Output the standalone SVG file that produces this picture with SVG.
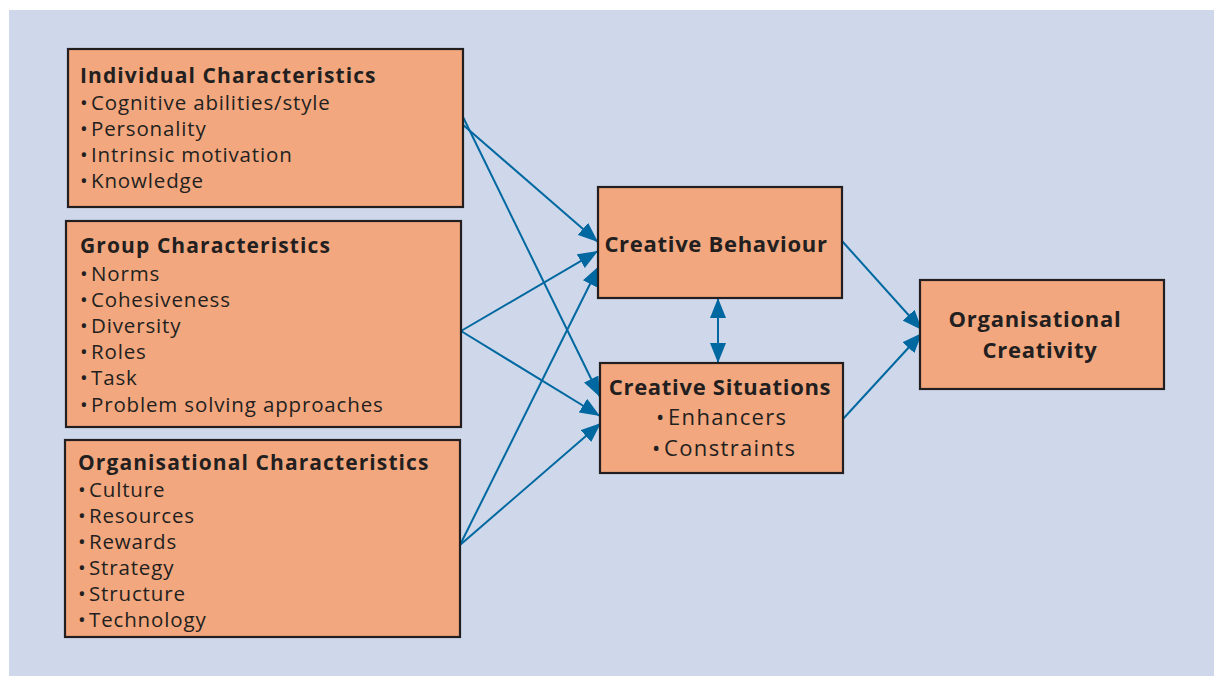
<svg xmlns="http://www.w3.org/2000/svg" width="1214" height="676" viewBox="0 0 1214 676">
  <style>
    .panel { fill: #cfd8ea; }
    .box { fill: #f2a77e; stroke: #231f20; stroke-width: 2.2; }
    .t { font-family: "Open Sans", "Liberation Sans", Arial, sans-serif; fill: #231f20; }
    .h { font-weight: bold; font-size: 21px; letter-spacing: 1.1px; }
    .hc { font-weight: bold; font-size: 22px; letter-spacing: 0.7px; text-anchor: middle; }
    .i { font-size: 20.5px; letter-spacing: 0.85px; }
    .ic { font-size: 22px; letter-spacing: 1.35px; }
    .link { fill: none; stroke: #0068a0; stroke-width: 2; }
  </style>
  <defs>
    <marker id="arrow" viewBox="0 0 20 16" refX="20" refY="8" markerWidth="20" markerHeight="16" markerUnits="userSpaceOnUse" orient="auto-start-reverse">
      <path d="M0,0 L20,8 L0,16 z" fill="#0068a0"/>
    </marker>
  </defs>

  <rect width="1214" height="676" fill="#ffffff"/>
  <rect class="panel" x="9" y="10" width="1205" height="666"/>

  <g id="connectors">
    <!-- inputs into Creative Behaviour -->
    <line class="link" x1="462" y1="124" x2="598" y2="242" marker-end="url(#arrow)"/>
    <line class="link" x1="461" y1="331" x2="598" y2="251" marker-end="url(#arrow)"/>
    <line class="link" x1="460" y1="545" x2="599" y2="266" marker-end="url(#arrow)"/>
    <!-- inputs into Creative Situations -->
    <line class="link" x1="463" y1="117" x2="600" y2="397" marker-end="url(#arrow)"/>
    <line class="link" x1="461" y1="331" x2="600" y2="416" marker-end="url(#arrow)"/>
    <line class="link" x1="460" y1="545" x2="601" y2="423" marker-end="url(#arrow)"/>
    <!-- two-way link between behaviour and situations -->
    <line class="link" x1="718" y1="298" x2="718" y2="363" marker-start="url(#arrow)" marker-end="url(#arrow)"/>
    <!-- outputs into Organisational Creativity -->
    <line class="link" x1="842" y1="241" x2="922" y2="330" marker-end="url(#arrow)"/>
    <line class="link" x1="843" y1="419" x2="922" y2="333" marker-end="url(#arrow)"/>
  </g>

  <g id="individual">
    <rect class="box" x="68" y="49" width="395" height="158"/>
    <text class="t h" x="80" y="83">Individual Characteristics</text>
    <text class="t i" y="110"><tspan x="80">•</tspan><tspan x="91">Cognitive abilities/style</tspan></text>
    <text class="t i" y="136"><tspan x="80">•</tspan><tspan x="91">Personality</tspan></text>
    <text class="t i" y="162"><tspan x="80">•</tspan><tspan x="91">Intrinsic motivation</tspan></text>
    <text class="t i" y="188"><tspan x="80">•</tspan><tspan x="91">Knowledge</tspan></text>
  </g>

  <g id="group">
    <rect class="box" x="66" y="221" width="395" height="206"/>
    <text class="t h" x="80" y="253">Group Characteristics</text>
    <text class="t i" y="281"><tspan x="80">•</tspan><tspan x="91">Norms</tspan></text>
    <text class="t i" y="307"><tspan x="80">•</tspan><tspan x="91">Cohesiveness</tspan></text>
    <text class="t i" y="333"><tspan x="80">•</tspan><tspan x="91">Diversity</tspan></text>
    <text class="t i" y="359"><tspan x="80">•</tspan><tspan x="91">Roles</tspan></text>
    <text class="t i" y="385"><tspan x="80">•</tspan><tspan x="91">Task</tspan></text>
    <text class="t i" y="412"><tspan x="80">•</tspan><tspan x="91">Problem solving approaches</tspan></text>
  </g>

  <g id="organisational">
    <rect class="box" x="65" y="440" width="395" height="197"/>
    <text class="t h" x="78" y="470">Organisational Characteristics</text>
    <text class="t i" y="497"><tspan x="78">•</tspan><tspan x="89">Culture</tspan></text>
    <text class="t i" y="523"><tspan x="78">•</tspan><tspan x="89">Resources</tspan></text>
    <text class="t i" y="549"><tspan x="78">•</tspan><tspan x="89">Rewards</tspan></text>
    <text class="t i" y="575"><tspan x="78">•</tspan><tspan x="89">Strategy</tspan></text>
    <text class="t i" y="601"><tspan x="78">•</tspan><tspan x="89">Structure</tspan></text>
    <text class="t i" y="627"><tspan x="78">•</tspan><tspan x="89">Technology</tspan></text>
  </g>

  <g id="creative-behaviour">
    <rect class="box" x="598" y="187" width="244" height="111"/>
    <text class="t hc" x="716" y="252">Creative Behaviour</text>
  </g>

  <g id="creative-situations">
    <rect class="box" x="600" y="363" width="243" height="110"/>
    <text class="t hc" x="720" y="395">Creative Situations</text>
    <text class="t ic" y="425"><tspan x="656">•</tspan><tspan x="668">Enhancers</tspan></text>
    <text class="t ic" y="456"><tspan x="652">•</tspan><tspan x="664">Constraints</tspan></text>
  </g>

  <g id="organisational-creativity">
    <rect class="box" x="920" y="280" width="244" height="109"/>
    <text class="t hc" x="1035" y="327">Organisational</text>
    <text class="t hc" x="1040" y="358">Creativity</text>
  </g>
</svg>
